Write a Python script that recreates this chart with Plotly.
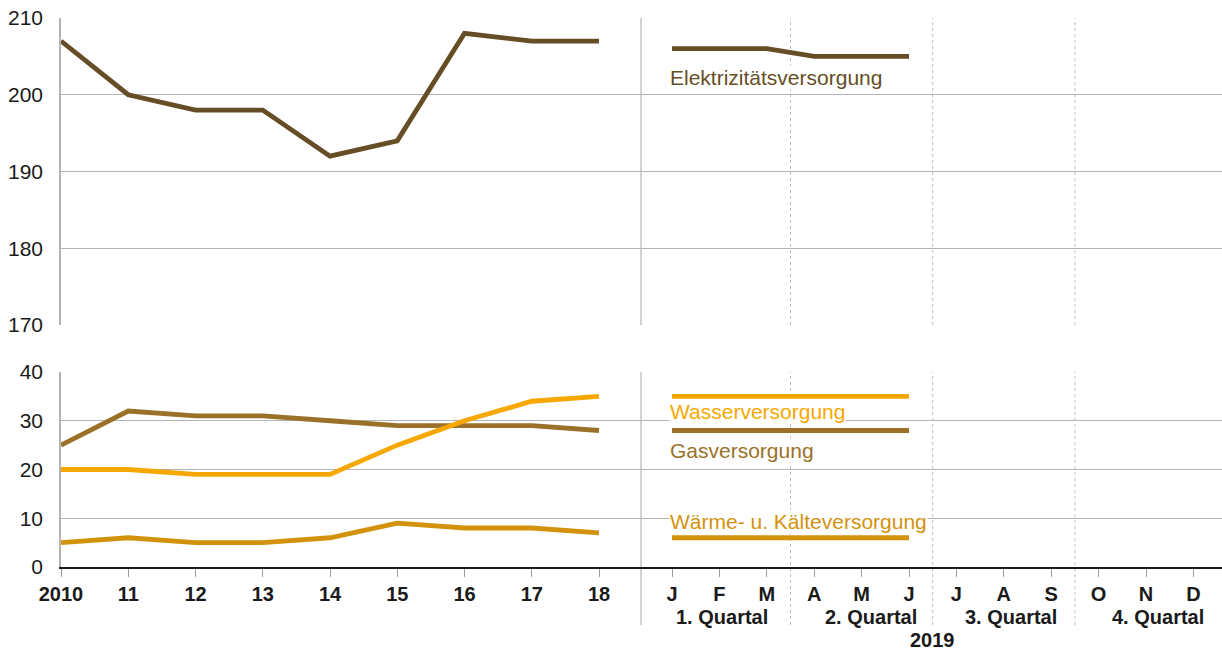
import plotly.graph_objects as go

# ---------------- data ----------------
years = ["2010", "11", "12", "13", "14", "15", "16", "17", "18"]
months = ["J", "F", "M", "A", "M", "J", "J", "A", "S", "O", "N", "D"]
quarters = ["1. Quartal", "2. Quartal", "3. Quartal", "4. Quartal"]
year_2019 = "2019"

elektro_years = [207, 200, 198, 198, 192, 194, 208, 207, 207]
elektro_months = [206, 206, 206, 205, 205, 205]
gas_years = [25, 32, 31, 31, 30, 29, 29, 29, 28]
gas_months = [28, 28, 28, 28, 28, 28]
wasser_years = [20, 20, 19, 19, 19, 25, 30, 34, 35]
wasser_months = [35, 35, 35, 35, 35, 35]
waerme_years = [5, 6, 5, 5, 6, 9, 8, 8, 7]
waerme_months = [6, 6, 6, 6, 6, 6]

# ---------------- layout constants ----------------
W, H = 1222, 652
ML, MR, MT, MB = 61, 0, 18, 85
PW = W - ML - MR
PH = H - MT - MB
YEAR_STEP = 67.25
MONTH_START = 611
MONTH_STEP = 47.4
SEP_X = 580

xy = [i * YEAR_STEP for i in range(len(years))]
xm_all = [MONTH_START + k * MONTH_STEP for k in range(len(months))]


def py(p):
    return (H - MB - p) / PH


top_dom = [py(325), 1.0]
bot_dom = [0.0, py(372)]
below = py(625)

C_EL = "#654e25"
C_GAS = "#9a7129"
C_WAS = "#f6a800"
C_WAR = "#d3920c"
GRID = "#b4b4b4"
TXT = "#1a1a1a"
FONT = "Liberation Sans"
FS = 21
LW = 4.8

fig = go.Figure()


def add_series(yv_years, yv_months, color, yaxis, width):
    fig.add_trace(go.Scatter(x=xy, y=yv_years, mode="lines", yaxis=yaxis,
                             line=dict(color=color, width=width), showlegend=False,
                             hoverinfo="skip"))
    fig.add_trace(go.Scatter(x=xm_all[:len(yv_months)], y=yv_months, mode="lines",
                             yaxis=yaxis, line=dict(color=color, width=width),
                             showlegend=False, hoverinfo="skip"))


add_series(elektro_years, elektro_months, C_EL, "y2", LW)
add_series(gas_years, gas_months, C_GAS, "y", LW)
add_series(wasser_years, wasser_months, C_WAS, "y", LW)
add_series(waerme_years, waerme_months, C_WAR, "y", LW)

shapes = []
# separator between years and months
for (y0, y1) in [(below, bot_dom[1]), (top_dom[0], top_dom[1])]:
    shapes.append(dict(type="line", xref="x", yref="paper", x0=SEP_X, x1=SEP_X,
                       y0=y0, y1=y1, line=dict(color=GRID, width=1.2), layer="below"))
# quarter separators (dotted)
for q in range(1, 4):
    xq = MONTH_START + (3 * q - 0.5) * MONTH_STEP
    for (y0, y1) in [(below, bot_dom[1]), (top_dom[0], top_dom[1])]:
        shapes.append(dict(type="line", xref="x", yref="paper", x0=xq, x1=xq,
                           y0=y0, y1=y1, line=dict(color="#bdbdbd", width=1, dash="dot"),
                           layer="below"))

annotations = []
# series labels
lab_x = xm_all[0] - 3
for text, yref, yv, color in [
    ("Elektrizitätsversorgung", "y2", 202.2, C_EL),
    ("Wasserversorgung", "y", 32.0, C_WAS),
    ("Gasversorgung", "y", 23.8, C_GAS),
    ("Wärme- u. Kälteversorgung", "y", 9.4, C_WAR),
]:
    annotations.append(dict(x=lab_x, y=yv, xref="x", yref=yref, text=text,
                            showarrow=False, xanchor="left", yanchor="middle",
                            font=dict(family=FONT, size=FS, color=color),
                            bgcolor="white", borderpad=0))

# quarter labels
q_offsets = [3, 9, 7, 12]
for q, name in enumerate(quarters):
    xc = MONTH_START + (3 * q + 1) * MONTH_STEP + q_offsets[q]
    annotations.append(dict(x=xc, y=py(617), xref="x", yref="paper", text=name,
                            showarrow=False, xanchor="center", yanchor="middle",
                            font=dict(family=FONT, size=FS - 1, color=TXT, weight="bold")))
annotations.append(dict(x=(xm_all[0] + xm_all[-1]) / 2, y=py(640), xref="x", yref="paper",
                        text=year_2019, showarrow=False, xanchor="center", yanchor="middle",
                        font=dict(family=FONT, size=FS - 1, color=TXT, weight="bold")))

fig.update_layout(
    width=W, height=H,
    margin=dict(l=ML, r=MR, t=MT, b=MB),
    paper_bgcolor="white", plot_bgcolor="white",
    shapes=shapes, annotations=annotations,
    xaxis=dict(range=[0, PW], anchor="y", tickmode="array",
               tickvals=xy + xm_all, ticktext=years + months,
               ticks="outside", ticklen=8, tickcolor="#9a9a9a", tickwidth=1,
               tickfont=dict(family=FONT, size=FS - 1, color=TXT, weight="bold"),
               showgrid=False, zeroline=False,
               showline=True, linecolor="#1a1a1a", linewidth=2),
    xaxis2=dict(range=[0, PW], anchor="y2", matches="x", showticklabels=False,
                showgrid=False, zeroline=False, showline=False, ticks=""),
    yaxis=dict(domain=bot_dom, range=[0, 40], tickvals=[0, 10, 20, 30, 40],
               showgrid=True, gridcolor=GRID, gridwidth=1, zeroline=False,
               showline=True, linecolor=GRID, linewidth=1.5,
               ticks="", ticklabelstandoff=12,
               tickfont=dict(family=FONT, size=FS, color=TXT)),
    yaxis2=dict(domain=top_dom, range=[170, 210], tickvals=[170, 180, 190, 200, 210],
                anchor="x", showgrid=True, gridcolor=GRID, gridwidth=1, zeroline=False,
                showline=True, linecolor=GRID, linewidth=1.5,
                ticks="", ticklabelstandoff=12,
                tickfont=dict(family=FONT, size=FS, color=TXT)),
)

fig.write_html("out.html", config={"displayModeBar": False},
               post_script="document.body.style.margin='0';")
